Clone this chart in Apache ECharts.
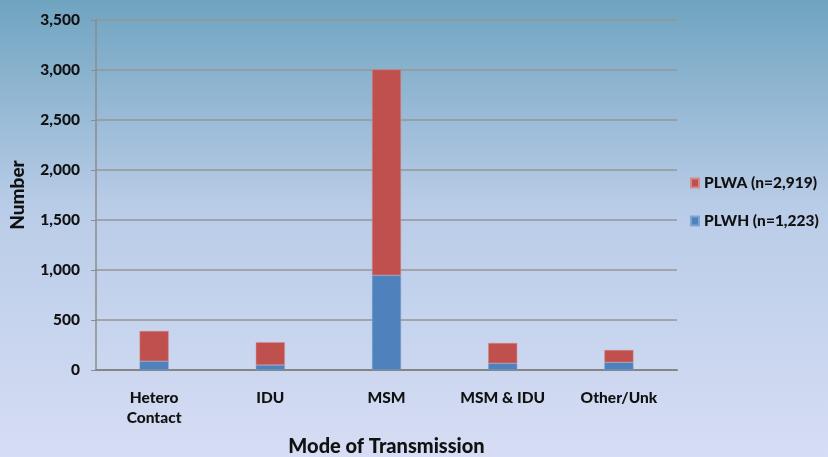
<!DOCTYPE html>
<html>
<head>
<meta charset="utf-8">
<script src="https://cdn.jsdelivr.net/npm/echarts@6/dist/echarts.min.js"></script>
<style>
  html, body { margin: 0; padding: 0; }
  #chart { width: 828px; height: 457px; }
</style>
</head>
<body>
<div id="chart"></div>
<script>
const categories = ['Hetero\nContact', 'IDU', 'MSM', 'MSM & IDU', 'Other/Unk'];
const plwh = [88, 50, 947, 67, 77];
const plwa = [302, 227, 2058, 203, 123];
const yTicks = [0, 500, 1000, 1500, 2000, 2500, 3000, 3500];

const font = 'Lato, "Open Sans", sans-serif';
const chart = echarts.init(document.getElementById('chart'));

chart.setOption({
  backgroundColor: new echarts.graphic.LinearGradient(0, 0, 0, 1, [
    { offset: 0, color: '#6fa4c0' },
    { offset: 0.45, color: '#b9cce7' },
    { offset: 1, color: '#d6ddf4' }
  ]),
  textStyle: { fontFamily: font },
  grid: { left: 96, right: 151, top: 20, bottom: 87, outerBoundsMode: 'none', containLabel: false },
  legend: {
    orient: 'vertical',
    left: 685,
    top: 170,
    itemWidth: 8,
    itemHeight: 9,
    itemGap: 22,
    icon: 'rect',
    data: ['PLWA (n=2,919)', 'PLWH (n=1,223)'],
    textStyle: { fontSize: 15.5, fontWeight: 900, color: '#111', fontFamily: font }
  },
  xAxis: {
    type: 'category',
    data: categories,
    name: 'Mode of Transmission',
    nameLocation: 'middle',
    nameGap: 67,
    nameTextStyle: { fontSize: 20, fontWeight: 900, color: '#111' },
    axisLine: { lineStyle: { color: '#858585', width: 2 } },
    axisTick: { show: false },
    axisLabel: { fontSize: 15.5, fontWeight: 900, color: '#111', margin: 18, lineHeight: 20 }
  },
  yAxis: {
    type: 'value',
    min: yTicks[0],
    max: yTicks[yTicks.length - 1],
    interval: 500,
    name: 'Number',
    nameLocation: 'middle',
    nameGap: 69,
    nameTextStyle: { fontSize: 19, fontWeight: 900, color: '#111' },
    axisLine: { show: true, lineStyle: { color: '#8c8c8c', width: 1.5 } },
    axisTick: { show: true, length: 5, lineStyle: { color: '#8c8c8c' } },
    axisLabel: {
      fontSize: 15.5, fontWeight: 900, color: '#111', margin: 16,
      formatter: v => v.toLocaleString('en-US')
    },
    splitLine: { lineStyle: { color: '#969696', width: 1.5 } }
  },
  series: [
    {
      name: 'PLWH (n=1,223)',
      type: 'bar',
      stack: 'total',
      barWidth: 29,
      data: plwh,
      itemStyle: { color: '#4f81bd', borderColor: '#7ea3d2', borderWidth: 0.5 }
    },
    {
      name: 'PLWA (n=2,919)',
      type: 'bar',
      stack: 'total',
      barWidth: 29,
      data: plwa,
      itemStyle: { color: '#c0504d', borderColor: '#d48a88', borderWidth: 0.5 }
    }
  ]
});
</script>
</body>
</html>
